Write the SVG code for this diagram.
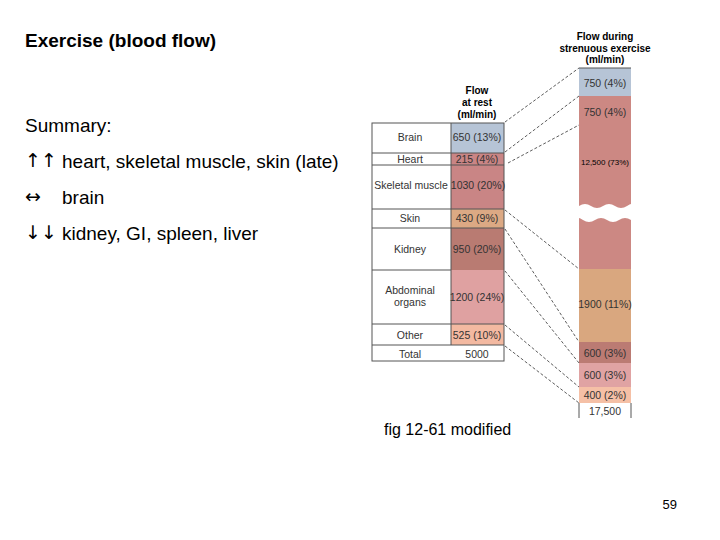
<svg xmlns="http://www.w3.org/2000/svg" width="720" height="540" viewBox="0 0 720 540">
<style>
text{font-family:"Liberation Sans",Arial,sans-serif;fill:#000}
.t{font-size:19px}
.a{font-size:19px;font-family:"DejaVu Sans",sans-serif}
.s{font-size:10.5px;fill:#333}
.h{font-size:10px;font-weight:bold}
.c{text-anchor:middle}
.g{stroke:#555;stroke-width:1}
.d{stroke:#333;stroke-width:0.8;stroke-dasharray:3,2;fill:none}
</style>
<rect width="720" height="540" fill="#fff"/>
<text class="t" x="25" y="47" font-weight="bold">Exercise (blood flow)</text>
<text class="t" x="25" y="132">Summary:</text>
<text class="a" x="25" y="167">↑↑</text><text class="t" x="62" y="168">heart, skeletal muscle, skin (late)</text>
<text class="a" x="25" y="203">↔</text><text class="t" x="62" y="204">brain</text>
<text class="a" x="25" y="239">↓↓</text><text class="t" x="62" y="240">kidney, GI, spleen, liver</text>
<g id="headers">
<text class="h c" x="605" y="40">Flow during</text>
<text class="h c" x="605" y="52">strenuous exercise</text>
<text class="h c" x="605" y="63">(ml/min)</text>
<text class="h c" x="477" y="94">Flow</text>
<text class="h c" x="477" y="106">at rest</text>
<text class="h c" x="477" y="118">(ml/min)</text>
</g>
<g id="rest-table">
<rect x="451" y="123" width="53" height="30" fill="#b6c4d6"/>
<rect x="451" y="153" width="53" height="56" fill="#c98585"/>
<rect x="451" y="209" width="53" height="19" fill="#dca984"/>
<rect x="451" y="228" width="53" height="42" fill="#b97b72"/>
<rect x="451" y="270" width="53" height="54" fill="#dfa1a1"/>
<rect x="451" y="324" width="53" height="21" fill="#f3b9a1"/>
<rect x="372" y="123" width="132" height="238" fill="none" class="g"/>
<line x1="451" y1="123" x2="451" y2="345" class="g"/>
<g class="g">
<line x1="372" y1="153" x2="504" y2="153"/><line x1="372" y1="165" x2="504" y2="165"/>
<line x1="372" y1="209" x2="504" y2="209"/><line x1="372" y1="228" x2="504" y2="228"/>
<line x1="372" y1="270" x2="451" y2="270"/><line x1="372" y1="324" x2="504" y2="324"/>
<line x1="372" y1="345" x2="504" y2="345"/>
</g>
<text class="s c" x="410" y="141">Brain</text><text class="s c" x="477" y="141">650 (13%)</text>
<text class="s c" x="410" y="163">Heart</text><text class="s c" x="477" y="163">215 (4%)</text>
<text class="s c" x="411" y="189">Skeletal muscle</text><text class="s c" x="478" y="189">1030 (20%)</text>
<text class="s c" x="410" y="222">Skin</text><text class="s c" x="477" y="222">430 (9%)</text>
<text class="s c" x="410" y="253">Kidney</text><text class="s c" x="477" y="253">950 (20%)</text>
<text class="s c" x="410" y="294">Abdominal</text><text class="s c" x="410" y="306">organs</text><text class="s c" x="477" y="301">1200 (24%)</text>
<text class="s c" x="410" y="339">Other</text><text class="s c" x="477" y="339">525 (10%)</text>
<text class="s c" x="410" y="358">Total</text><text class="s c" x="477" y="358">5000</text>
</g>
<g id="exercise-column">
<rect x="579" y="68" width="52" height="28" fill="#b6c4d6"/>
<rect x="579" y="96" width="52" height="173" fill="#cc8883"/>
<path d="M579 206 q6 -4 12 0 t12 0 t12 0 t12 0 t4 0 L631 220 q-6 -4 -12 0 t-12 0 t-12 0 t-12 0 t-4 0 Z" fill="#fff"/>
<rect x="579" y="269" width="52" height="73" fill="#d9a77f"/>
<rect x="579" y="342" width="52" height="21" fill="#bb7b73"/>
<rect x="579" y="363" width="52" height="24" fill="#e0a3a3"/>
<rect x="579" y="387" width="52" height="16" fill="#f5c0a6"/>
<line x1="579" y1="68" x2="631" y2="68" class="g"/>
<line x1="579" y1="403" x2="579" y2="418" class="g"/><line x1="631" y1="403" x2="631" y2="418" class="g"/>
<text class="s c" x="605" y="87">750 (4%)</text>
<text class="s c" x="605" y="116">750 (4%)</text>
<text class="c" x="605" y="165" font-size="8" fill="#333">12,500 (73%)</text>
<text class="s c" x="605" y="308">1900 (11%)</text>
<text class="s c" x="605" y="357">600 (3%)</text>
<text class="s c" x="605" y="379">600 (3%)</text>
<text class="s c" x="605" y="399">400 (2%)</text>
<text class="s c" x="605" y="415">17,500</text>
</g>
<g id="connectors">
<line class="d" x1="505" y1="122" x2="579" y2="68"/>
<line class="d" x1="505" y1="152" x2="579" y2="96"/>
<line class="d" x1="508" y1="163" x2="579" y2="125"/>
<line class="d" x1="505" y1="210" x2="579" y2="269"/>
<line class="d" x1="505" y1="229" x2="579" y2="342"/>
<line class="d" x1="505" y1="271" x2="579" y2="363"/>
<line class="d" x1="505" y1="325" x2="579" y2="387"/>
<line class="d" x1="505" y1="346" x2="579" y2="403"/>
</g>
<text x="384" y="435" font-size="16">fig 12-61 modified</text>
<text x="677" y="509" font-size="13" text-anchor="end">59</text>
</svg>
